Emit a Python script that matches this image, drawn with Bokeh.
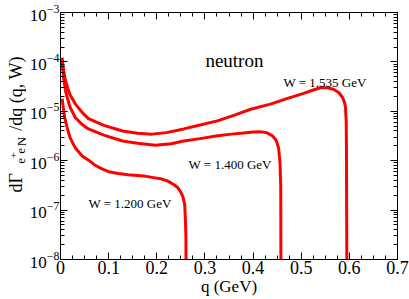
import math
from bokeh.plotting import figure
from bokeh.layouts import row
from bokeh.models import (FixedTicker, LogAxis, LinearAxis, LogTickFormatter, Label, Range1d)
from bokeh.embed import file_html
from bokeh.resources import INLINE

# ---- data ----
q_w1535 = [0.0035, 0.006, 0.0104, 0.015, 0.02, 0.031, 0.045, 0.058, 0.09, 0.129, 0.16, 0.19,
           0.22, 0.256, 0.29, 0.326, 0.36, 0.395, 0.436, 0.47, 0.505, 0.525, 0.540, 0.555,
           0.567, 0.578, 0.586, 0.590, 0.592, 0.5935, 0.594, 0.595]
v_w1535 = [1.22e-4, 7.0e-5, 4.2e-5, 2.9e-5, 2.15e-5, 1.4e-5, 9.5e-6, 7.1e-6, 5.2e-6, 4.0e-6, 3.6e-6, 3.45e-6,
           3.7e-6, 4.4e-6, 5.3e-6, 6.4e-6, 8.3e-6, 1.1e-5, 1.4e-5, 1.8e-5, 2.3e-5, 2.7e-5, 3.0e-5, 3.0e-5,
           2.8e-5, 2.4e-5, 1.9e-5, 1.5e-5, 1.2e-5, 6.0e-6, 1.6e-6, 1e-9]

q_w1400 = [0.0035, 0.006, 0.0104, 0.014, 0.02, 0.031, 0.045, 0.058, 0.09, 0.129, 0.16, 0.197,
           0.23, 0.256, 0.29, 0.326, 0.355, 0.38, 0.40, 0.415, 0.428, 0.44, 0.448, 0.453,
           0.456, 0.4575, 0.458]
v_w1400 = [1.1e-4, 5.0e-5, 2.6e-5, 1.9e-5, 1.2e-5, 7.4e-6, 5.4e-6, 4.4e-6, 3.3e-6, 2.5e-6, 2.25e-6, 2.05e-6,
           2.2e-6, 2.5e-6, 2.8e-6, 3.2e-6, 3.45e-6, 3.65e-6, 3.8e-6, 3.85e-6, 3.7e-6, 3.2e-6, 2.6e-6, 1.8e-6,
           9.0e-7, 3.0e-7, 1e-9]

q_w1200 = [0.0035, 0.008, 0.014, 0.02, 0.031, 0.045, 0.06, 0.07, 0.085, 0.10, 0.12, 0.14,
           0.173, 0.19, 0.208, 0.222, 0.235, 0.243, 0.249, 0.254, 0.258, 0.2595, 0.2605, 0.261]
v_w1200 = [1.8e-5, 8.0e-6, 4.6e-6, 2.9e-6, 1.8e-6, 1.25e-6, 1.0e-6, 8.3e-7, 6.9e-7, 6.0e-7, 5.5e-7, 5.2e-7,
           4.9e-7, 4.6e-7, 4.3e-7, 3.9e-7, 3.3e-7, 2.9e-7, 2.4e-7, 1.9e-7, 1.3e-7, 6.0e-8, 3.0e-8, 1e-9]

x_ticks = [0.0, 0.1, 0.2, 0.3, 0.4, 0.5, 0.6, 0.7]
x_tick_labels = ["0", "0.1", "0.2", "0.3", "0.4", "0.5", "0.6", "0.7"]
y_decades = [-8, -7, -6, -5, -4, -3]

FONT = "Liberation Serif"

y_ticks = [10.0 ** d for d in y_decades]
y_minor = [k * 10.0 ** d for d in y_decades[:-1] for k in range(2, 10)]
x_minor = [i * 0.025 for i in range(0, 29)]

# ---------------- main plot ----------------
p = figure(width=383, height=299, x_range=Range1d(0, 0.7), y_range=Range1d(1e-8, 1e-3),
           y_axis_type="log", output_backend="svg", toolbar_location=None,
           min_border_left=34, min_border_right=12, min_border_top=12, min_border_bottom=40)
p.xgrid.visible = False
p.ygrid.visible = False
p.outline_line_color = "black"
p.outline_line_width = 1
p.background_fill_color = "white"
p.border_fill_color = "white"

def style(ax, labels=True):
    ax.axis_line_color = "black"
    ax.major_tick_line_color = "black"
    ax.minor_tick_line_color = "black"
    ax.major_tick_in = 7
    ax.major_tick_out = 0
    ax.minor_tick_in = 4
    ax.minor_tick_out = 0
    ax.major_label_text_font = FONT
    ax.major_label_text_color = "black"
    if labels:
        ax.major_label_text_font_size = "18px"
    else:
        ax.major_label_text_font_size = "0px"
        ax.major_label_text_alpha = 0
        ax.major_label_standoff = 0

xb = p.xaxis[0]
xb.ticker = FixedTicker(ticks=x_ticks, minor_ticks=x_minor)
xb.major_label_overrides = {t: s for t, s in zip(x_ticks, x_tick_labels)}
style(xb)
xb.major_label_standoff = 1
xb.axis_label = "q (GeV)"
xb.axis_label_text_font = FONT
xb.axis_label_text_font_size = "17px"
xb.axis_label_text_font_style = "normal"
xb.axis_label_text_color = "black"
xb.axis_label_standoff = 0

yl = p.yaxis[0]
yl.ticker = FixedTicker(ticks=y_ticks, minor_ticks=y_minor)
yl.formatter = LogTickFormatter()
style(yl)
yl.major_label_text_font_size = "17px"
yl.major_label_standoff = 1

yr = LogAxis(ticker=FixedTicker(ticks=y_ticks, minor_ticks=y_minor))
style(yr, labels=False)
p.add_layout(yr, "right")
xt = LinearAxis(ticker=FixedTicker(ticks=x_ticks, minor_ticks=x_minor))
style(xt, labels=False)
p.add_layout(xt, "above")

for qs, vs in [(q_w1535, v_w1535), (q_w1400, v_w1400), (q_w1200, v_w1200)]:
    p.line(qs, vs, line_color="#ff0000", line_width=3, line_join="round")

def lab(fig, text, x, y, size, angle=0.0, style_="normal"):
    fig.add_layout(Label(text=text, x=x, y=y, angle=angle,
                         text_font=FONT, text_font_size=size, text_color="black",
                         text_font_style=style_, text_align="left", text_baseline="alphabetic"))

lab(p, "neutron", 0.301, 1.06e-4, "19px")
lab(p, "W = 1.535 GeV", 0.463, 3.8e-5, "13px")
lab(p, "W = 1.400 GeV", 0.266, 8.5e-7, "13px")
lab(p, "W = 1.200 GeV", 0.058, 1.38e-7, "13px")

# ---------------- y axis title (left strip, page pixel coordinates) ----------------
left = figure(width=26, height=299, x_range=Range1d(0, 26), y_range=Range1d(299, 0),
              output_backend="svg", toolbar_location=None,
              x_axis_location=None, y_axis_location=None,
              min_border=0, min_border_left=0, min_border_right=0,
              min_border_top=0, min_border_bottom=0)
left.xgrid.visible = False
left.ygrid.visible = False
left.outline_line_color = None
left.background_fill_color = "white"
left.border_fill_color = "white"

a = math.pi / 2
lab(left, "d\u0393", 15, 218, "18px", angle=a)
lab(left, "e", 20.5, 183, "13px", angle=a)
lab(left, "+", 13, 176.5, "11px", angle=a)
lab(left, "e", 20.5, 171, "13px", angle=a)
lab(left, "N", 20.5, 162, "13px", angle=a)
lab(left, "/dq (q, W)", 15, 143, "18px", angle=a)

layout = row(left, p, spacing=0)
open("out.html", "w").write(file_html(layout, INLINE))
